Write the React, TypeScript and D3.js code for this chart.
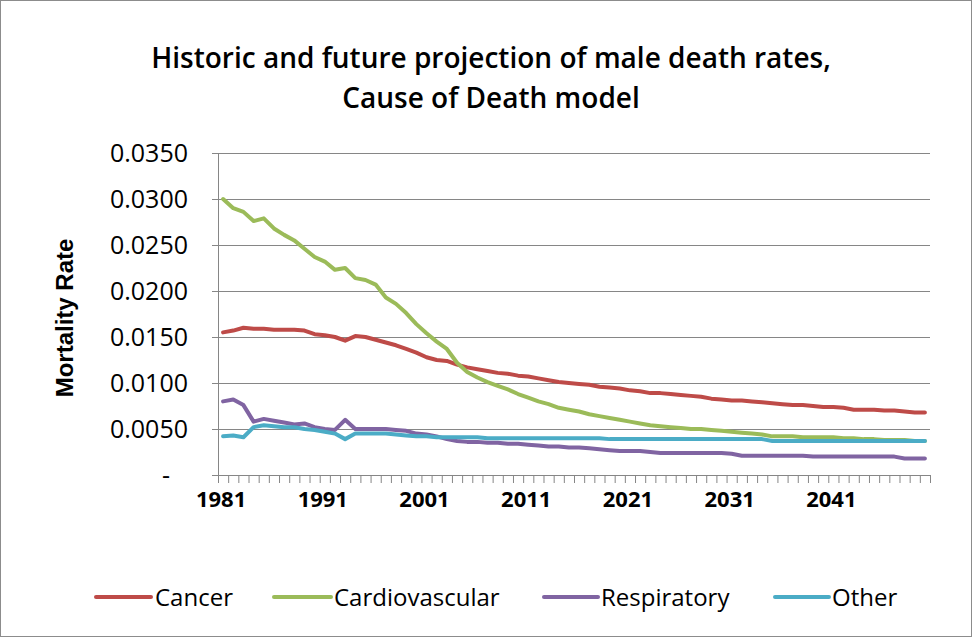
import React from "react";
import * as d3 from "d3";

const years: string[] = d3.range(1981, 2051).map((y) => String(y));
const tickLabels: string[] = ["1981", "1991", "2001", "2011", "2021", "2031", "2041"];
const yTicks: number[] = [0, 0.005, 0.01, 0.015, 0.02, 0.025, 0.03, 0.035];
const seriesNames: string[] = ["Cancer", "Cardiovascular", "Respiratory", "Other"];
const seriesColors: string[] = ["#BE4B48", "#9BBB59", "#8064A2", "#4BACC6"];

const cancer: number[] = [
  0.0155, 0.0157, 0.016, 0.0159, 0.0159, 0.0158, 0.0158, 0.0158, 0.0157, 0.0153,
  0.0152, 0.015, 0.0146, 0.0151, 0.015, 0.0147, 0.0144, 0.0141, 0.0137, 0.0133,
  0.0128, 0.0125, 0.0124, 0.012, 0.0117, 0.0115, 0.0113, 0.0111, 0.011, 0.0108,
  0.0107, 0.0105, 0.0103, 0.0101, 0.01, 0.0099, 0.0098, 0.0096, 0.0095, 0.0094,
  0.0092, 0.0091, 0.0089, 0.0089, 0.0088, 0.0087, 0.0086, 0.0085, 0.0083, 0.0082,
  0.0081, 0.0081, 0.008, 0.0079, 0.0078, 0.0077, 0.0076, 0.0076, 0.0075, 0.0074,
  0.0074, 0.0073, 0.0071, 0.0071, 0.0071, 0.007, 0.007, 0.0069, 0.0068, 0.0068,
];

const cardiovascular: number[] = [
  0.03, 0.029, 0.0286, 0.0276, 0.0279, 0.0268, 0.0261, 0.0255, 0.0246, 0.0237,
  0.0232, 0.0223, 0.0225, 0.0214, 0.0212, 0.0207, 0.0193, 0.0186, 0.0176, 0.0164,
  0.0154, 0.0145, 0.0137, 0.0122, 0.0112, 0.0106, 0.0101, 0.0097, 0.0093, 0.0088,
  0.0084, 0.008, 0.0077, 0.0073, 0.0071, 0.0069, 0.0066, 0.0064, 0.0062, 0.006,
  0.0058, 0.0056, 0.0054, 0.0053, 0.0052, 0.0051, 0.005, 0.005, 0.0049, 0.0048,
  0.0047, 0.0046, 0.0045, 0.0044, 0.0042, 0.0042, 0.0042, 0.0041, 0.0041, 0.0041,
  0.0041, 0.004, 0.004, 0.0039, 0.0039, 0.0038, 0.0038, 0.0038, 0.0037, 0.0037,
];

const respiratory: number[] = [
  0.008, 0.0082, 0.0076, 0.0058, 0.0061, 0.0059, 0.0057, 0.0055, 0.0056, 0.0052,
  0.005, 0.0049, 0.006, 0.005, 0.005, 0.005, 0.005, 0.0049, 0.0048, 0.0045,
  0.0044, 0.0042, 0.0039, 0.0037, 0.0036, 0.0036, 0.0035, 0.0035, 0.0034, 0.0034,
  0.0033, 0.0032, 0.0031, 0.0031, 0.003, 0.003, 0.0029, 0.0028, 0.0027, 0.0026,
  0.0026, 0.0026, 0.0025, 0.0024, 0.0024, 0.0024, 0.0024, 0.0024, 0.0024, 0.0024,
  0.0023, 0.0021, 0.0021, 0.0021, 0.0021, 0.0021, 0.0021, 0.0021, 0.002, 0.002,
  0.002, 0.002, 0.002, 0.002, 0.002, 0.002, 0.002, 0.0018, 0.0018, 0.0018,
];

const other: number[] = [
  0.0042, 0.0043, 0.0041, 0.0052, 0.0054, 0.0053, 0.0052, 0.0052, 0.005, 0.0049,
  0.0047, 0.0045, 0.0039, 0.0045, 0.0045, 0.0045, 0.0045, 0.0044, 0.0043, 0.0042,
  0.0042, 0.0041, 0.0041, 0.0041, 0.0041, 0.0041, 0.004, 0.004, 0.004, 0.004,
  0.004, 0.004, 0.004, 0.004, 0.004, 0.004, 0.004, 0.004, 0.0039, 0.0039,
  0.0039, 0.0039, 0.0039, 0.0039, 0.0039, 0.0039, 0.0039, 0.0039, 0.0039, 0.0039,
  0.0039, 0.0039, 0.0039, 0.0039, 0.0037, 0.0037, 0.0037, 0.0037, 0.0037, 0.0037,
  0.0037, 0.0037, 0.0037, 0.0037, 0.0037, 0.0037, 0.0037, 0.0037, 0.0037, 0.0037,
];

const W = 972;
const H = 637;
const PL = 218;
const PR = 930;
const PT = 153;
const PB = 475;

export default function App() {
  const x = d3.scaleBand<string>().domain(years).range([PL, PR]).paddingInner(0).paddingOuter(0);
  const y = d3.scaleLinear().domain([0, 0.035]).range([PB, PT]);
  const bw = x.bandwidth();
  const cx = (yr: string) => (x(yr) as number) + bw / 2;

  const allSeries = [cancer, cardiovascular, respiratory, other];
  const line = d3
    .line<number>()
    .x((_, i) => cx(years[i]))
    .y((d) => y(d))
    .curve(d3.curveLinear);

  const fmt = (v: number) => (v === 0 ? "-" : d3.format(".4f")(v));

  const legendPos = [
    { x0: 96, x1: 151, tx: 155 },
    { x0: 274, x1: 331, tx: 334 },
    { x0: 544, x1: 598, tx: 601 },
    { x0: 775, x1: 829, tx: 832 },
  ];

  return (
    <div style={{ position: "absolute", left: 0, top: 0 }}>
      <svg width={W} height={H} style={{ display: "block", background: "#fff" }}>
        <rect x={0.5} y={0.5} width={W - 1} height={H - 1} fill="#fff" stroke="#8c8c8c" strokeWidth={1} />
        <text
          x={491}
          y={68}
          textAnchor="middle"
          fontFamily="'Open Sans', sans-serif"
          fontWeight={600}
          fontSize={28}
          fill="#000"
        >
          Historic and future projection of male death rates,
        </text>
        <text
          x={491}
          y={108}
          textAnchor="middle"
          fontFamily="'Open Sans', sans-serif"
          fontWeight={600}
          fontSize={28}
          fill="#000"
        >
          Cause of Death model
        </text>

        {/* gridlines */}
        {yTicks.filter((t) => t > 0).map((t) => (
          <line key={"g" + t} x1={PL} x2={PR} y1={Math.round(y(t)) + 0.5} y2={Math.round(y(t)) + 0.5} stroke="#868686" strokeWidth={1} />
        ))}
        {/* y axis */}
        <line x1={PL + 0.5} x2={PL + 0.5} y1={PT} y2={PB} stroke="#868686" strokeWidth={1} />
        {yTicks.map((t) => (
          <line key={"yt" + t} x1={PL - 6} x2={PL} y1={Math.round(y(t)) + 0.5} y2={Math.round(y(t)) + 0.5} stroke="#868686" strokeWidth={1} />
        ))}
        {yTicks.map((t) => (
          <text
            key={"yl" + t}
            x={t === 0 ? 170 : 188}
            y={y(t)}
            dy="0.36em"
            textAnchor="end"
            fontFamily="'Open Sans', sans-serif"
            fontSize={25}
            fill="#000"
          >
            {fmt(t)}
          </text>
        ))}
        {/* x axis */}
        <line x1={PL} x2={PR} y1={PB + 0.5} y2={PB + 0.5} stroke="#868686" strokeWidth={1} />
        {d3.range(years.length + 1).map((i) => (
          <line key={"xt" + i} x1={PL + i * bw + 0.5} x2={PL + i * bw + 0.5} y1={PB} y2={PB + 8} stroke="#868686" strokeWidth={1} />
        ))}
        {tickLabels.map((lbl) => (
          <text
            key={"xl" + lbl}
            x={cx(lbl) - 2}
            y={507}
            textAnchor="middle"
            fontFamily="'Open Sans', sans-serif"
            fontWeight={700}
            fontSize={22}
            fill="#000"
          >
            {lbl}
          </text>
        ))}

        {/* y axis title */}
        <text
          transform="translate(73,318) rotate(-90)"
          textAnchor="middle"
          fontFamily="'Liberation Sans', Arial, sans-serif"
          fontWeight={700}
          fontSize={24}
          fill="#000"
        >
          Mortality Rate
        </text>

        {/* series */}
        {allSeries.map((s, k) => (
          <path key={"s" + k} d={line(s) as string} fill="none" stroke={seriesColors[k]} strokeWidth={4} strokeLinejoin="round" strokeLinecap="round" />
        ))}

        {/* legend */}
        {seriesNames.map((n, k) => (
          <g key={"lg" + k}>
            <line x1={legendPos[k].x0} x2={legendPos[k].x1} y1={597} y2={597} stroke={seriesColors[k]} strokeWidth={4} strokeLinecap="round" />
            <text
              x={legendPos[k].tx}
              y={597}
              dy="0.36em"
              fontFamily="'Open Sans', sans-serif"
              fontSize={24}
              fill="#000"
            >
              {n}
            </text>
          </g>
        ))}
      </svg>
    </div>
  );
}
